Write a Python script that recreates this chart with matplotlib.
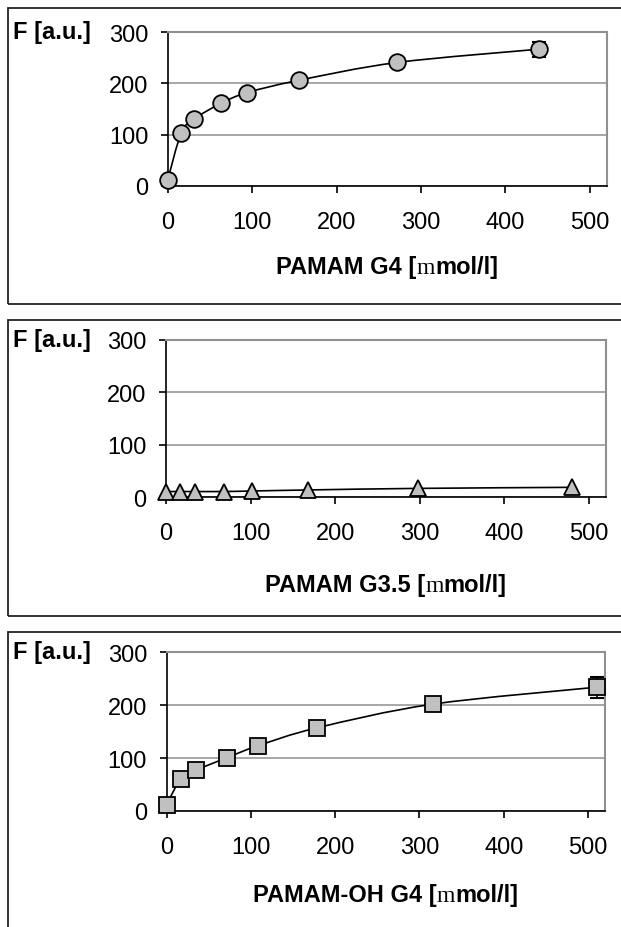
import numpy as np
import matplotlib
matplotlib.use("Agg")
import matplotlib.pyplot as plt
from matplotlib.path import Path
from matplotlib.patches import PathPatch, Rectangle

W, H = 621, 928

# data
g4_x = [0, 16, 31, 63, 94, 155, 272, 440]
g4_y = [11, 103, 130, 161, 182, 206, 241, 267]
g4_err = [0, 0, 0, 0, 0, 0, 0, 15]

g35_x = [0, 17, 34, 68, 102, 168, 298, 480]
g35_y = [11, 11, 11, 11, 12, 14, 17, 19]
g35_err = [0, 0, 0, 0, 0, 0, 0, 0]

oh_x = [0, 17, 35, 72, 108, 178, 316, 510]
oh_y = [12, 60, 77, 101, 123, 157, 202, 234]
oh_err = [0, 0, 0, 0, 0, 0, 0, 20]

x_ticks = [0, 100, 200, 300, 400, 500]
y_ticks = [0, 100, 200, 300]
y_title = "F [a.u.]"
x_titles = [("PAMAM G4 [", "m", "mol/l]"),
            ("PAMAM G3.5 [", "m", "mol/l]"),
            ("PAMAM-OH G4 [", "m", "mol/l]")]

FS = 17
SANS = "Liberation Sans"
plt.rcParams["font.family"] = [SANS, "DejaVu Sans"]


def fx(px):
    return px / W


def fy(py):
    return 1 - py / H


def smooth_path(xs, ys):
    # excel-like smoothed line: cubic bezier through the points
    p = np.column_stack([xs, ys]).astype(float)
    ext = np.vstack([p[0], p, p[-1]])
    verts = [p[0]]
    codes = [Path.MOVETO]
    for i in range(len(p) - 1):
        c1 = ext[i + 1] + (ext[i + 2] - ext[i]) / 6
        c2 = ext[i + 2] - (ext[i + 3] - ext[i + 1]) / 6
        verts += [c1, c2, p[i + 1]]
        codes += [Path.CURVE4] * 3
    return Path(verts, codes)


def panel(box, frame, xs, ys, err, marker, msize, title_parts, title_y, ylab_y):
    left, right, top, bottom = box
    fig.patches.append(Rectangle((fx(frame[0]), fy(frame[3])),
                                 fx(frame[2] - frame[0]), (frame[3] - frame[1]) / H,
                                 transform=fig.transFigure, fill=False,
                                 edgecolor="#222222", linewidth=1.3))
    ax = fig.add_axes([fx(left), fy(bottom), fx(right - left), (bottom - top) / H])
    ax.set_xlim(0, 520)
    ax.set_ylim(0, 300)
    ax.set_xticks(x_ticks)
    ax.set_yticks(y_ticks)
    ax.yaxis.grid(True, color="#a0a0a0", linewidth=1.3)
    ax.set_axisbelow(True)
    for s in ["top", "right"]:
        ax.spines[s].set_color("#909090")
        ax.spines[s].set_linewidth(1.5)
    for s in ["left", "bottom"]:
        ax.spines[s].set_color("black")
        ax.spines[s].set_linewidth(1.2)
    ax.tick_params(axis="y", length=5, width=1.2, pad=9, labelsize=FS)
    ax.tick_params(axis="x", length=5, width=1.2, pad=13, labelsize=FS)

    ax.add_patch(PathPatch(smooth_path(xs, ys), fill=False, edgecolor="black",
                           linewidth=1.2, zorder=3))
    e = np.array(err, dtype=float)
    m = e > 0
    if m.any():
        ax.errorbar(np.array(xs)[m], np.array(ys)[m], yerr=e[m], fmt="none",
                    ecolor="black", elinewidth=1.2, capsize=5, capthick=1.5,
                    zorder=4, clip_on=False)
    ax.plot(xs, ys, linestyle="none", marker=marker, markersize=msize,
            markerfacecolor="#c0c0c0", markeredgecolor="black",
            markeredgewidth=1.3, zorder=5, clip_on=False)

    fig.text(fx(13), fy(ylab_y), y_title, fontsize=FS, fontweight="bold",
             ha="left", va="center")

    t1 = fig.text(0, fy(title_y), title_parts[0], fontsize=FS, fontweight="bold",
                  ha="left", va="baseline")
    t2 = fig.text(0, fy(title_y), title_parts[1], fontsize=FS,
                  family=["Liberation Serif"], ha="left", va="baseline")
    t3 = fig.text(0, fy(title_y), title_parts[2], fontsize=FS, fontweight="bold",
                  ha="left", va="baseline")
    return ax, (t1, t2, t3), (left + right) / 2


fig = plt.figure(figsize=(W / 100, H / 100), dpi=100)

titles = []
titles.append(panel((167.7, 606.7, 33.3, 186.7), (7.7, 9, 630, 305.3),
                    g4_x, g4_y, g4_err, "o", 12, x_titles[0], 274, 33))
titles.append(panel((166, 606, 341, 498.3), (7.7, 321, 630, 616.7),
                    g35_x, g35_y, g35_err, "^", 12, x_titles[1], 592.5, 341))
titles.append(panel((166.5, 605, 653.3, 812), (7.7, 632.7, 630, 940),
                    oh_x, oh_y, oh_err, "s", 11, x_titles[2], 902, 653))

# lay the three pieces of each x title side by side, centred under the axes
fig.canvas.draw()
r = fig.canvas.get_renderer()
for ax, parts, cx in titles:
    widths = [t.get_window_extent(r).width for t in parts]
    x = cx - sum(widths) / 2
    for t, w in zip(parts, widths):
        t.set_x(fx(x))
        x += w

fig.savefig("out.png", dpi=100)
